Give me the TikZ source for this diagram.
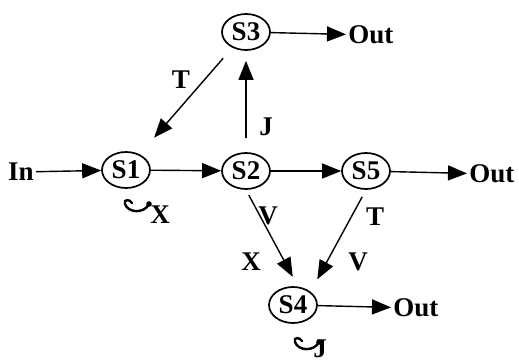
\documentclass[tikz,border=0pt]{standalone}
\usepackage{fontspec}
\setmainfont{Liberation Serif}
\usetikzlibrary{arrows.meta,shapes.geometric}
\tikzset{
  >={Triangle[length=9.5pt,width=7.5pt]},
  stnode/.style={ellipse,draw,line width=0.85pt,minimum width=24pt,minimum height=18pt,
    inner sep=0pt,font=\fontsize{13.5}{13.5}\selectfont\bfseries},
  term/.style={font=\fontsize{13.5}{13.5}\selectfont\bfseries,inner sep=1pt},
  lbl/.style={font=\fontsize{13.5}{13.5}\selectfont\bfseries,inner sep=0pt},
  flow/.style={->,line width=0.7pt},
  % small self-loop mark
  pics/curl/.style={code={
    \draw[line width=1.2pt,line cap=round] (9,4) .. controls (7,0) and (0,0) .. (2,5)
      .. controls (5,14) and (21,15) .. (26,5);
    \fill (26,5) circle (1.4pt);
  }},
}
\begin{document}
\begin{tikzpicture}[x=0.5pt,y=-0.5pt]
  \useasboundingbox (0,0) rectangle (519,363);
  % states
  \node[stnode] (s1) at (126,170) {S1};
  \node[stnode] (s2) at (246,171) {S2};
  \node[stnode] (s3) at (246,32) {S3};
  \node[stnode] (s5) at (366,171) {S5};
  \node[stnode] (s4) at (293,305) {S4};
  % inputs and outputs
  \node[term,anchor=east] (in) at (36,172) {In};
  \node[term,anchor=west] (out3) at (346,35) {Out};
  \node[term,anchor=west] (out5) at (467,174) {Out};
  \node[term,anchor=west] (out4) at (391,308) {Out};
  % transitions
  \draw[flow] (in) -- (s1);
  \draw[flow] (s1) -- (s2);
  \draw[flow] (s2) -- (s5);
  \draw[flow] (s3) -- (out3);
  \draw[flow] (s5) -- (out5);
  \draw[flow] (s4) -- (out4);
  \draw[flow,shorten <=7pt,shorten >=5pt] (s2) -- (s3);
  \draw[flow,shorten <=7pt,shorten >=11pt] (s3) -- (s1);
  \draw[flow,shorten <=3pt,shorten >=5.5pt] (s2.south) -- (s4.75);
  \draw[flow,shorten <=4pt,shorten >=7pt] (s5.south) -- (s4.north east);
  % labels
  \node[lbl] (lt1) at (181,80) {T};
  \node[lbl] (lj1) at (266,127) {J};
  \node[lbl] (lv1) at (268,216) {V};
  \node[lbl] (lx1) at (251,262) {X};
  \node[lbl] (lt2) at (375,217) {T};
  \node[lbl] (lv2) at (358,262) {V};
  % self loops
  \pic at (123,199) {curl};
  \node[lbl] (lx2) at (160,215) {X};
  \pic at (293,337) {curl};
  \node[lbl] (lj2) at (320,349) {J};
\end{tikzpicture}
\end{document}
